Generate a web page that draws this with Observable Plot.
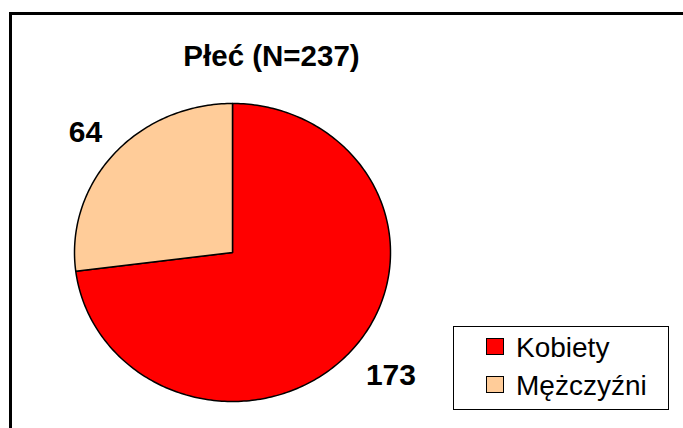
<!DOCTYPE html>
<html>
<head>
<meta charset="utf-8">
<script src="https://cdn.jsdelivr.net/npm/d3@7"></script>
<script src="https://cdn.jsdelivr.net/npm/@observablehq/plot@0.6"></script>
<style>
  body { margin: 0; background: #fff; }
  #wrap { position: relative; width: 683px; height: 428px; overflow: hidden; font-family: "Liberation Sans", Arial, sans-serif; }
  #frame { position: absolute; left: 9px; top: 12px; width: 700px; height: 450px; border-left: 3px solid #000; border-top: 3px solid #000; box-sizing: border-box; pointer-events: none; }
  #title { position: absolute; left: 0; width: 543px; top: 36px; text-align: center; font-weight: bold; font-size: 29.5px; line-height: 40px; color: #000; white-space: nowrap; }
  #legend { position: absolute; left: 453px; top: 326px; width: 216px; height: 84px; border: 1.5px solid #000; box-sizing: border-box; background: #fff; }
  .item { position: absolute; left: 32px; font-size: 28px; line-height: 32px; color: #000; white-space: nowrap; }
  .sw { position: absolute; left: 0; top: 6px; width: 18px; height: 17px; border: 1.5px solid #000; box-sizing: border-box; }
  .lbl { position: absolute; left: 30px; top: 0; }
  #chart { position: absolute; left: 0; top: 0; }
</style>
</head>
<body>
<div id="wrap">
  <div id="chart"></div>
  <div id="frame"></div>
  <div id="title"></div>
  <div id="legend"></div>
</div>
<script>
const titleText = "Płeć (N=237)";
const categories = ["Kobiety", "Mężczyźni"];
const values = [173, 64];
const colors = ["#FF0000", "#FFCC99"];

document.getElementById("title").textContent = titleText;

const total = d3.sum(values);
// Build slice polygons (clockwise from 12 o'clock) from the data
const slicePoints = [];
const labels = [];
let acc = 0;
categories.forEach((c, i) => {
  const a0 = acc / total * 2 * Math.PI;
  acc += values[i];
  const a1 = acc / total * 2 * Math.PI;
  slicePoints.push({cat: c, x: 0, y: 0});
  const n = Math.max(2, Math.ceil((a1 - a0) / (Math.PI / 180)));
  for (let k = 0; k <= n; k++) {
    const a = a0 + (a1 - a0) * k / n;
    slicePoints.push({cat: c, x: Math.sin(a), y: Math.cos(a)});
  }
  slicePoints.push({cat: c, x: 0, y: 0});
  const am = (a0 + a1) / 2;
  labels.push({cat: c, value: values[i], x: 1.1 * Math.sin(am), y: 1.1 * Math.cos(am)});
});

const rightLabels = labels.filter(d => d.x >= 0);
const leftLabels = labels.filter(d => d.x < 0);

const chart = Plot.plot({
  width: 683,
  height: 428,
  margin: 0,
  x: {domain: [-1, 1], range: [74, 390], axis: null},
  y: {domain: [-1, 1], range: [401, 103], axis: null},
  color: {domain: categories, range: colors},
  style: {background: "transparent", fontFamily: "'Liberation Sans', Arial, sans-serif"},
  marks: [
    Plot.line(slicePoints, {x: "x", y: "y", z: "cat", fill: "cat", stroke: "#000", strokeWidth: 1.5, strokeLinejoin: "round"}),
    Plot.text(rightLabels, {x: "x", y: "y", text: d => String(d.value), fontSize: 30, fontWeight: "bold", fill: "#000", textAnchor: "start", lineAnchor: "top", dx: 3, dy: 3}),
    Plot.text(leftLabels, {x: "x", y: "y", text: d => String(d.value), fontSize: 30, fontWeight: "bold", fill: "#000", textAnchor: "end", lineAnchor: "bottom", dx: 0, dy: -2})
  ]
});
document.getElementById("chart").appendChild(chart);

const legend = document.getElementById("legend");
categories.forEach((c, i) => {
  const it = document.createElement("div");
  it.className = "item";
  it.style.top = (5 + i * 38) + "px";
  const sw = document.createElement("span");
  sw.className = "sw";
  sw.style.background = colors[i];
  it.appendChild(sw);
  const t = document.createElement("span");
  t.className = "lbl";
  t.textContent = c;
  it.appendChild(t);
  legend.appendChild(it);
});
</script>
</body>
</html>
